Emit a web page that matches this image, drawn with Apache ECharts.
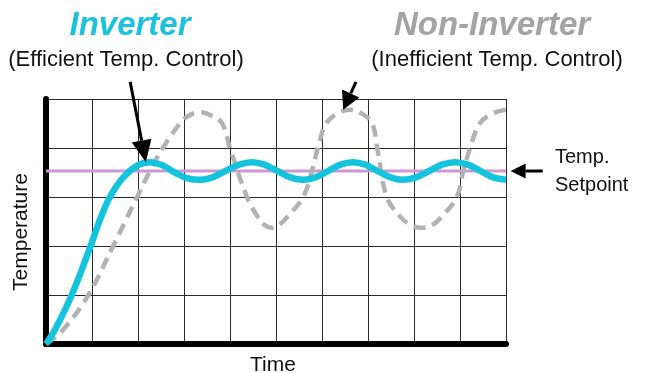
<!DOCTYPE html>
<html>
<head>
<meta charset="utf-8">
<script src="https://cdn.jsdelivr.net/npm/echarts@6/dist/echarts.min.js"></script>
<style>
    html, body { margin: 0; padding: 0; background: #fff; }
    #chart { width: 645px; height: 373px; }
</style>
</head>
<body>
<div id="chart"></div>
<script>
    // values (x = time grid cells, y = temperature grid cells)
    var inverterX = [0, 0.2, 0.56, 0.97, 1.17, 1.39, 1.68, 2.0, 2.26, 2.55, 2.8, 3.08, 3.35, 3.62, 3.9, 4.2, 4.48, 4.75, 5.03, 5.31, 5.59, 5.86, 6.13, 6.4, 6.67, 6.94, 7.21, 7.49, 7.76, 8.04, 8.33, 8.61, 8.89, 9.17, 9.45, 9.72, 10];
    var inverterY = [0, 0.3, 1.0, 2.0, 2.53, 3.0, 3.4, 3.65, 3.71, 3.64, 3.5, 3.38, 3.35, 3.4, 3.53, 3.66, 3.71, 3.66, 3.53, 3.4, 3.35, 3.4, 3.53, 3.66, 3.71, 3.66, 3.53, 3.4, 3.35, 3.4, 3.53, 3.66, 3.71, 3.66, 3.53, 3.4, 3.35];

    var nonInverterX = [0, 0.37, 0.92, 1.46, 1.72, 1.98, 2.26, 2.54, 2.91, 3.1, 3.35, 3.6, 3.83, 4.0, 4.37, 4.6, 4.75, 4.91, 5.07, 5.25, 5.59, 5.78, 5.91, 6.09, 6.35, 6.6, 6.85, 7.09, 7.2, 7.41, 7.7, 7.93, 8.17, 8.4, 8.6, 8.93, 9.07, 9.22, 9.43, 9.7, 10];
    var nonInverterY = [0, 0.29, 1.0, 2.0, 2.5, 3.0, 3.53, 4.0, 4.5, 4.66, 4.73, 4.66, 4.5, 4.0, 3.0, 2.6, 2.43, 2.37, 2.43, 2.6, 3.0, 3.53, 4.0, 4.5, 4.71, 4.78, 4.71, 4.5, 4.0, 3.0, 2.6, 2.43, 2.37, 2.43, 2.6, 3.0, 3.53, 4.0, 4.5, 4.7, 4.78];

    var setpointY = 3.53;
    var timeRange = [0, 10];
    var tempRange = [0, 5];

    // arrows: [tailX, tailY, tipX, tipY] in data units
    var arrowInverter = [1.83, 5.35, 2.17, 3.71];
    var arrowNonInverter = [6.74, 5.35, 6.46, 4.78];
    var arrowSetpoint = [10.8, 3.53, 10.1, 3.53];

    function zip(xs, ys) {
        var out = [];
        for (var i = 0; i < xs.length; i++) out.push([xs[i], ys[i]]);
        return out;
    }

    var chart = echarts.init(document.getElementById('chart'));

    var option = {
        animation: false,
        backgroundColor: '#fff',
        grid: { left: 46, top: 99, width: 460, height: 245 },
        xAxis: {
            type: 'value', min: timeRange[0], max: timeRange[1], interval: 1,
            axisLine: { show: true, lineStyle: { color: '#000', width: 6 } },
            axisTick: { show: false },
            axisLabel: { show: false },
            splitLine: { show: true, lineStyle: { color: '#2a2a2a', width: 1 } }
        },
        yAxis: {
            type: 'value', min: tempRange[0], max: tempRange[1], interval: 1,
            offset: 3,
            axisLine: { show: true, lineStyle: { color: '#000', width: 6 } },
            axisTick: { show: false },
            axisLabel: { show: false },
            splitLine: { show: true, lineStyle: { color: '#2a2a2a', width: 1 } }
        },
        series: [
            {
                name: 'Setpoint', type: 'line', z: 2,
                data: [[timeRange[0], setpointY], [timeRange[1], setpointY]],
                symbol: 'none',
                lineStyle: { color: '#cc98d4', width: 3 }
            },
            {
                name: 'Non-Inverter', type: 'line', z: 3,
                data: zip(nonInverterX, nonInverterY),
                symbol: 'none', smooth: 0.4,
                lineStyle: { color: '#b2b2b2', width: 4.5, type: [12, 7], cap: 'butt' }
            },
            {
                name: 'Inverter', type: 'line', z: 4,
                data: zip(inverterX, inverterY),
                symbol: 'none', smooth: 0.4,
                lineStyle: { color: '#14c4dc', width: 6.5 }
            }
        ]
    };
    chart.setOption(option);

    function arrow(a, headLen, headW) {
        var p0 = chart.convertToPixel({ gridIndex: 0 }, [a[0], a[1]]);
        var p1 = chart.convertToPixel({ gridIndex: 0 }, [a[2], a[3]]);
        var dx = p1[0] - p0[0], dy = p1[1] - p0[1];
        var len = Math.sqrt(dx * dx + dy * dy);
        var ux = dx / len, uy = dy / len;
        var bx = p1[0] - ux * headLen, by = p1[1] - uy * headLen;
        var nx = -uy * headW / 2, ny = ux * headW / 2;
        return [
            { type: 'line', z: 10, shape: { x1: p0[0], y1: p0[1], x2: bx, y2: by },
              style: { stroke: '#000', lineWidth: 3 } },
            { type: 'polygon', z: 10, shape: { points: [[p1[0], p1[1]], [bx + nx, by + ny], [bx - nx, by - ny]] },
              style: { fill: '#000' } }
        ];
    }

    var font = '"Liberation Sans", Arial, sans-serif';
    var texts = [
        { type: 'text', x: 130, y: 26, style: { text: 'Inverter', fill: '#1cc2dc', font: 'italic bold 33px ' + font, align: 'center', verticalAlign: 'middle' } },
        { type: 'text', x: 126, y: 60, style: { text: '(Efficient Temp. Control)', fill: '#111', font: '22px ' + font, align: 'center', verticalAlign: 'middle' } },
        { type: 'text', x: 492, y: 26, style: { text: 'Non-Inverter', fill: '#a3a3a3', font: 'italic bold 33px ' + font, align: 'center', verticalAlign: 'middle' } },
        { type: 'text', x: 497, y: 60, style: { text: '(Inefficient Temp. Control)', fill: '#111', font: '22px ' + font, align: 'center', verticalAlign: 'middle' } },
        { type: 'text', x: 555, y: 157, style: { text: 'Temp.', fill: '#111', font: '20px ' + font, align: 'left', verticalAlign: 'middle' } },
        { type: 'text', x: 555, y: 185, style: { text: 'Setpoint', fill: '#111', font: '20px ' + font, align: 'left', verticalAlign: 'middle' } },
        { type: 'text', x: 273, y: 365, style: { text: 'Time', fill: '#111', font: '21px ' + font, align: 'center', verticalAlign: 'middle' } },
        { type: 'text', x: 21, y: 232, rotation: Math.PI / 2, style: { text: 'Temperature', fill: '#111', font: '21px ' + font, align: 'center', verticalAlign: 'middle' } }
    ];

    var graphics = texts
        .concat(arrow(arrowInverter, 22, 20))
        .concat(arrow(arrowNonInverter, 18, 19))
        .concat(arrow(arrowSetpoint, 15, 15));

    chart.setOption({ graphic: graphics });
</script>
</body>
</html>
